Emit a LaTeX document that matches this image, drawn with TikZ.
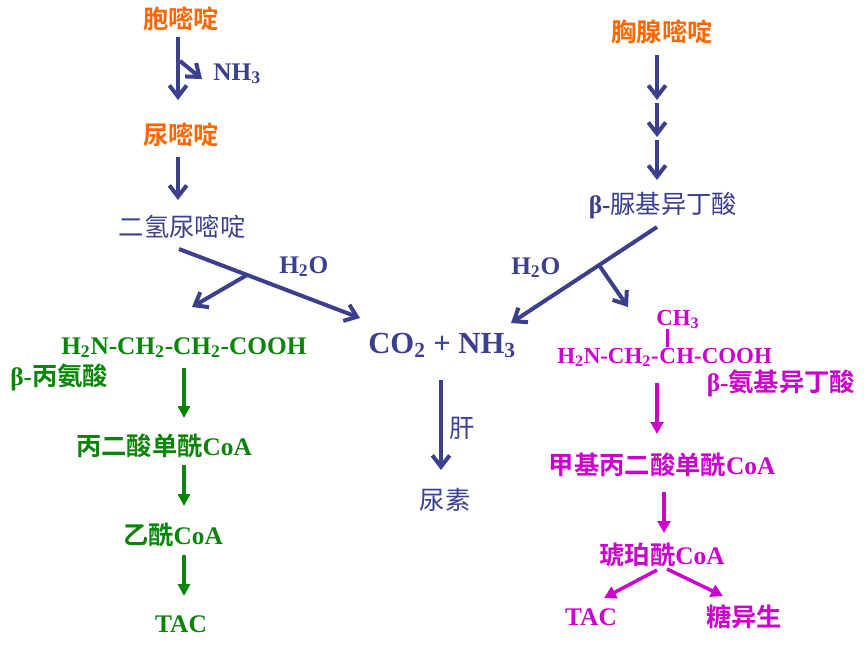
\documentclass[tikz,border=0pt]{standalone}
\usepackage{fontspec}
\setmainfont{Liberation Serif}
\newfontfamily\cjk{Noto Sans CJK SC}[BoldFont=Noto Sans CJK SC Bold]
\usetikzlibrary{arrows.meta,calc}
\definecolor{corange}{HTML}{FF6600}
\definecolor{cblue}{HTML}{3C408C}
\definecolor{cgreen}{HTML}{0A850A}
\definecolor{cmag}{HTML}{CC00CC}
\newcommand\zh[1]{{\cjk\mdseries #1}}
\newcommand\zhb[1]{{\cjk\bfseries #1}}
\newcommand\sbs[1]{\textsubscript{#1}}
\begin{document}
\begin{tikzpicture}[x=0.75pt,y=-0.75pt,
  txt/.style={inner sep=0pt, font=\fontsize{19}{22}\selectfont\bfseries},
  otxt/.style={txt, text=corange},
  btxt/.style={txt, text=cblue},
  gtxt/.style={txt, text=cgreen},
  mtxt/.style={txt, text=cmag},
  msmall/.style={mtxt, font=\fontsize{17.2}{20}\selectfont\bfseries},
  barrow/.style={draw=cblue, line width=3pt, -{Straight Barb[length=8.5pt,width=13pt]}},
  garrow/.style={draw=cgreen, line width=2.6pt, -{Triangle[length=9pt,width=9pt]}},
  marrow/.style={draw=cmag, line width=2.6pt, -{Triangle[length=9pt,width=9.5pt]}},
  mbond/.style={draw=cmag, line width=2pt}
]
\fill[white] (0,0) rectangle (868,646);
\useasboundingbox (0,0) rectangle (868,646);

% ---------- left branch: cytosine ----------
\node[otxt] (cyt) at (181,19) {\zhb{胞嘧啶}};
\node[btxt, anchor=base west] (nh3a) at (213,80) {NH\sbs{3}};
\node[otxt] (ura) at (181,135) {\zhb{尿嘧啶}};
\node[btxt] (dhu) at (182,227) {\zh{二氢尿嘧啶}};
\node[btxt, anchor=base west] (h2oL) at (279,273) {H\sbs{2}O};
\node[gtxt, anchor=base west] (bala) at (61,354) {H\sbs{2}N-CH\sbs{2}-CH\sbs{2}-COOH};
\node[gtxt, anchor=base west] (balaname) at (10,385) {β-\zhb{丙氨酸}};
\node[gtxt] (mal) at (164,446) {\zhb{丙二酸单酰}CoA};
\node[gtxt] (acc) at (173,535) {\zhb{乙酰}CoA};
\node[gtxt] (tacL) at (181,624) {TAC};

% ---------- middle ----------
\node[btxt, anchor=base west, font=\fontsize{23}{27}\selectfont\bfseries] (co2) at (368,353) {CO\sbs{2} + NH\sbs{3}};
\node[btxt] (liver) at (462,428) {\zh{肝}};
\node[btxt] (urea) at (445,500) {\zh{尿素}};

% ---------- right branch: thymine ----------
\node[otxt] (thy) at (662,32) {\zhb{胸腺嘧啶}};
\node[btxt] (bui) at (663,206) {β-\zh{脲基异丁酸}};
\node[btxt, anchor=base west] (h2oR) at (511,274) {H\sbs{2}O};
\node[msmall, anchor=base west] (m1) at (557,363) {H\sbs{2}N-CH\sbs{2}-};
\node[msmall, anchor=base west] (mC) at (m1.base east) {C};
\node[msmall, anchor=base west] (m2) at (mC.base east) {H-COOH};
\node[msmall, anchor=base west] (ch3) at ($(mC.base west)+(-3,-38)$) {CH\sbs{3}};
\node[mtxt] (baibname) at (781,383) {β-\zhb{氨基异丁酸}};
\node[mtxt] (mmc) at (662,465) {\zhb{甲基丙二酸单酰}CoA};
\node[mtxt] (suc) at (662,555) {\zhb{琥珀酰}CoA};
\node[mtxt] (tacR) at (591,617) {TAC};
\node[mtxt] (glu) at (744,617) {\zhb{糖异生}};

% ---------- connectors: left ----------
\draw[barrow] ($(cyt)+(-3,18)$) -- ($(ura)+(-3,-35)$);
\draw[barrow] ($(cyt)+(-1,42)$) -- ($(nh3a.base west)+(-11,-1)$);
\draw[barrow] ($(ura)+(-3,22)$) -- ($(dhu)+(-4,-27)$);
\coordinate (dl1) at ($(dhu)+(-3,22)$);
\coordinate (dl2) at ($(co2.base west)+(-8,-35)$);
\draw[barrow] (dl1) -- (dl2);
\coordinate (bpL) at ($(dl1)!0.376!(dl2)$);
\draw[barrow] (bpL) -- ($(bala.base west)+(131,-47)$);
\draw[garrow] ($(bala.base west)+(123,14)$) -- ($(mal)+(20,-28)$);
\draw[garrow] ($(mal)+(20,19)$) -- ($(acc)+(11,-29)$);
\draw[garrow] ($(acc)+(11,20)$) -- ($(tacL)+(3,-28)$);

% ---------- connectors: middle ----------
\draw[barrow] ($(co2.base west)+(73,27)$) -- ($(urea)+(-4,-30)$);

% ---------- connectors: right ----------
\coordinate (r1) at ($(thy)+(-5,68)$);
\coordinate (r2) at ($(thy)+(-5,71)$);
\coordinate (r3) at ($(thy)+(-5,105)$);
\coordinate (r4) at ($(thy)+(-5,108)$);
\draw[barrow] ($(thy)+(-5,23)$) -- (r1);
\draw[barrow] (r2) -- (r3);
\draw[barrow] (r4) -- ($(bui)+(-6,-26)$);
\coordinate (dr1) at ($(bui)+(-6,21)$);
\coordinate (dr2) at ($(co2.base west)+(143,-30)$);
\draw[barrow] (dr1) -- (dr2);
\coordinate (bpR) at ($(dr1)!0.397!(dr2)$);
\draw[barrow] (bpR) -- ($(ch3.base west)+(-28,-18)$);
\draw[mbond] ($(mC.north)+(0,-1)$) -- ($(mC.north)+(0,-19)$);
\draw[marrow] ($(m1.base west)+(100,20)$) -- ($(mmc)+(-5,-31)$);
\draw[marrow] ($(mmc)+(2,27)$) -- ($(suc)+(2,-22)$);
\draw[marrow] ($(suc)+(-5,15)$) -- ($(tacR)+(13,-19)$);
\draw[marrow] ($(suc)+(5,14)$) -- ($(glu)+(-21,-21)$);
\end{tikzpicture}
\end{document}
